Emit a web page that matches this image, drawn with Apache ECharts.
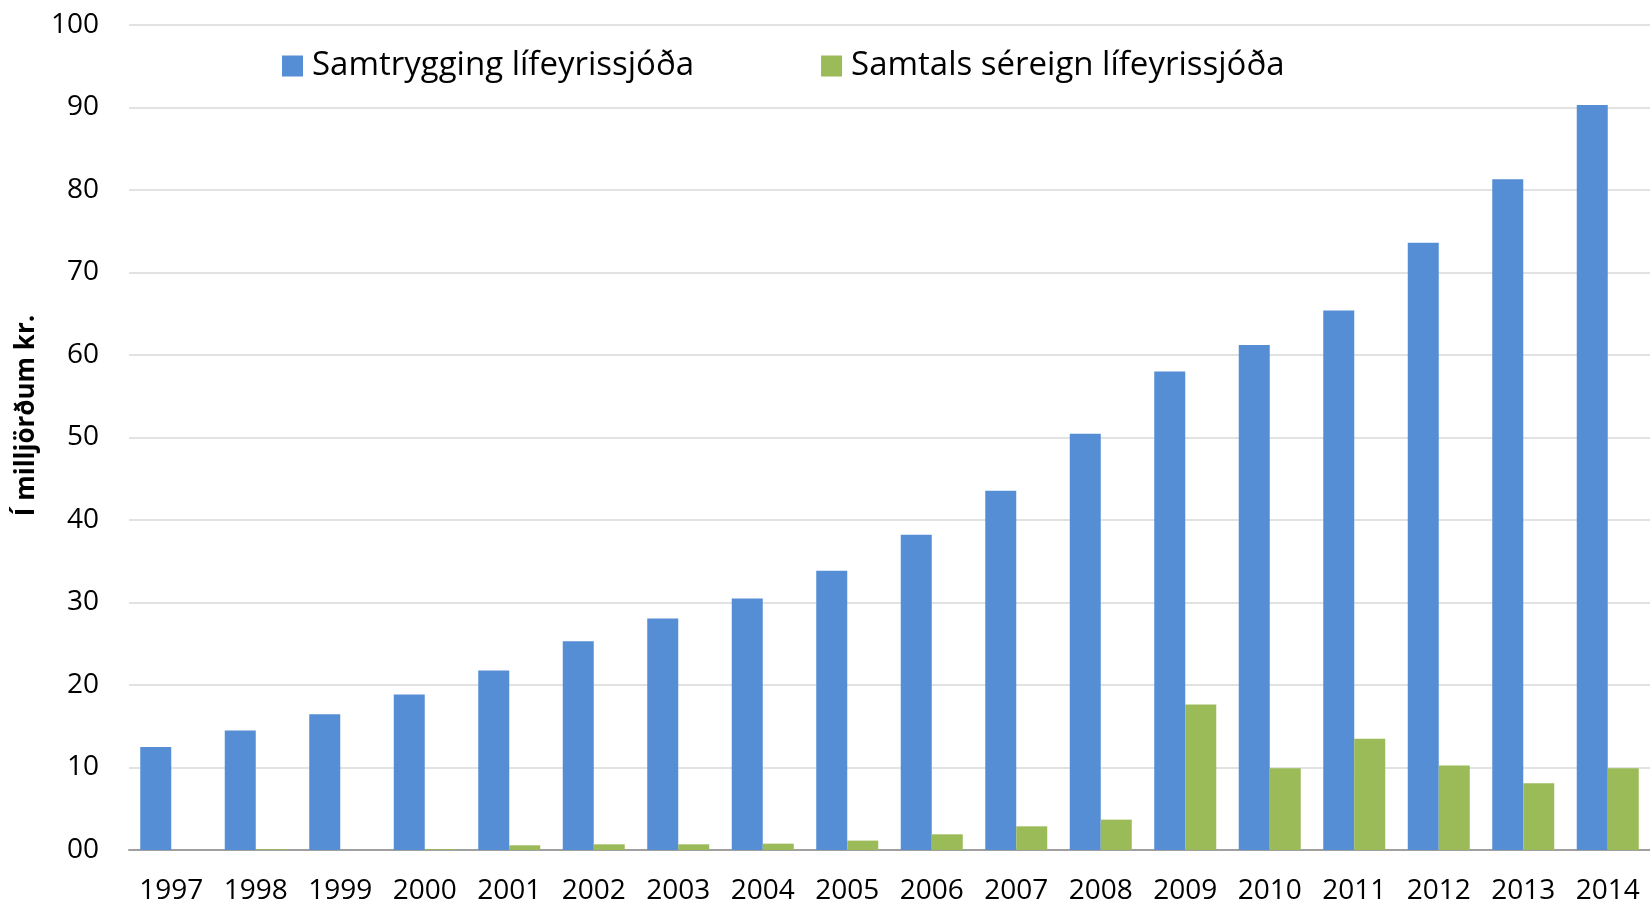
<!DOCTYPE html>
<html>
<head>
<meta charset="utf-8">
<script src="https://cdn.jsdelivr.net/npm/echarts@6/dist/echarts.min.js"></script>
<style>
html,body{margin:0;padding:0;background:#fff;}
#chart{width:1650px;height:905px;}
</style>
</head>
<body>
<div id="chart"></div>
<script>
const years = ['1997','1998','1999','2000','2001','2002','2003','2004','2005','2006','2007','2008','2009','2010','2011','2012','2013','2014'];
const samtrygging = [12.5, 14.5, 16.45, 18.85, 21.75, 25.3, 28.05, 30.5, 33.85, 38.2, 43.55, 50.45, 58.0, 61.2, 65.4, 73.6, 81.3, 90.3];
const sereign = [0, 0.1, 0, 0.1, 0.57, 0.69, 0.69, 0.77, 1.14, 1.9, 2.87, 3.68, 17.63, 9.9, 13.5, 10.23, 8.09, 9.9];
const seriesNames = ['Samtrygging lífeyrissjóða', 'Samtals séreign lífeyrissjóða'];
const yTickLabels = ['00','10','20','30','40','50','60','70','80','90','100'];
const yAxisTitle = 'Í milljörðum kr.';

const chart = echarts.init(document.getElementById('chart'));
const FONT = '"Open Sans", "DejaVu Sans", sans-serif';
chart.setOption({
  animation: false,
  backgroundColor: '#ffffff',
  textStyle: { fontFamily: FONT },
  legend: {
    left: 282,
    top: 46,
    padding: 0,
    itemWidth: 21,
    itemHeight: 21,
    itemGap: 127,
    icon: 'rect',
    textStyle: { fontFamily: FONT, fontSize: 33, color: '#000', lineHeight: 40, padding: [0, 0, 0, 4] },
    data: seriesNames
  },
  grid: { left: 129, right: -9, top: 25, bottom: 55, containLabel: false },
  xAxis: {
    type: 'category',
    data: years,
    axisTick: { show: false },
    axisLine: { show: true, lineStyle: { color: '#a0a0a0', width: 2 } },
    axisLabel: { fontFamily: FONT, fontSize: 28, color: '#000', margin: 27, interval: 0 },
    splitLine: { show: false }
  },
  yAxis: {
    type: 'value',
    min: 0, max: 100, interval: 10,
    name: yAxisTitle,
    nameLocation: 'middle',
    nameGap: 88,
    nameTextStyle: { fontFamily: FONT, fontSize: 26, fontWeight: 'bold', color: '#000', padding: [0, 0, 0, 44] },
    axisLine: { show: false },
    axisTick: { show: false },
    axisLabel: {
      fontFamily: FONT, fontSize: 28, color: '#000', margin: 30,
      formatter: v => yTickLabels[Math.round(v / 10)]
    },
    splitLine: { show: true, lineStyle: { color: '#d9d9d9', width: 1.5 } }
  },
  series: [
    {
      name: seriesNames[0], type: 'bar', data: samtrygging,
      barWidth: 31, barGap: '0%',
      itemStyle: { color: '#558ed5' }
    },
    {
      name: seriesNames[1], type: 'bar', data: sereign,
      barWidth: 31, barGap: '0%',
      itemStyle: { color: '#9bbb59' }
    }
  ]
});
</script>
</body>
</html>
